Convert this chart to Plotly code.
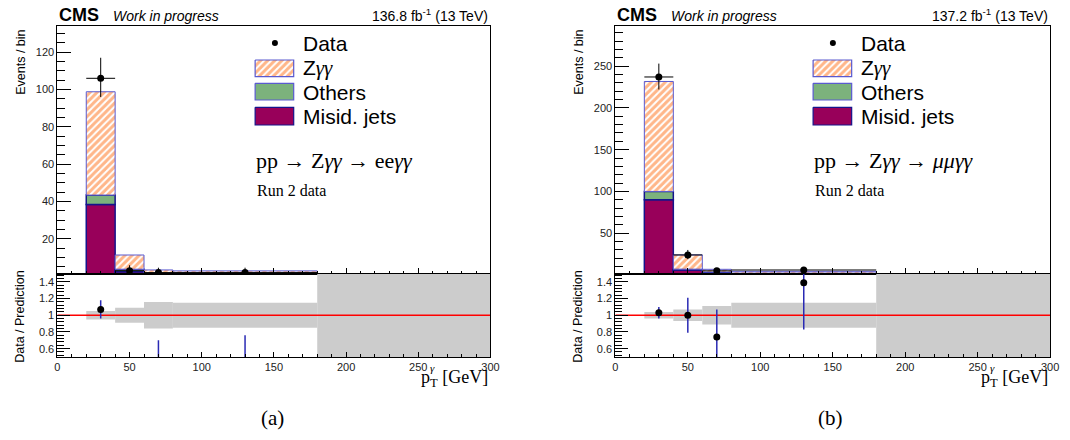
import plotly.graph_objects as go

W, H = 1070, 440

# ---------------- data ----------------
bin_lo = [20, 40, 60, 80]
bin_hi = [40, 60, 80, 180]

band_lo = [20, 40, 60, 80, 180]
band_hi = [40, 60, 80, 180, 300]

# (a) ee channel
ee_misid = [38.5, 2.5, 0.6, 0.6]
ee_others = [5.0, 1.3, 0.4, 0.3]
ee_zgg = [55.3, 7.6, 2.4, 2.0]
ee_data = [106, 3, 2, 2]
ee_data_up = [11, 2.9, 2.6, 2.6]
ee_data_dn = [10, 1.6, 1.3, 1.3]
ee_ratio = [1.07, 0.26, 0.29, 0.34]
ee_ratio_up = [0.11, 0.24, 0.41, 0.42]
ee_ratio_dn = [0.11, 0.14, 0.20, 0.20]
ee_unc = [0.05, 0.09, 0.16, 0.15, 1.0]

# (b) mumu channel
mm_misid = [90.0, 6.0, 2.5, 1.5]
mm_others = [10.0, 1.0, 1.0, 0.8]
mm_zgg = [131.6, 17.0, 3.3, 2.1]
mm_data = [237, 24, 5, 6]
mm_data_up = [16, 6, 3.4, 3.6]
mm_data_dn = [15, 5, 2.2, 2.4]
mm_ratio = [1.03, 1.00, 0.74, 1.39]
mm_ratio_up = [0.07, 0.21, 0.33, 0.30]
mm_ratio_dn = [0.07, 0.21, 0.30, 0.56]
mm_unc = [0.04, 0.07, 0.11, 0.15, 1.0]

lumi = ["136.8 fb<sup>-1</sup> (13 TeV)", "137.2 fb<sup>-1</sup> (13 TeV)"]
process = ["pp → Z<i>γγ</i> → ee<i>γγ</i>", "pp → Z<i>γγ</i> → <i>μμγγ</i>"]
captions = ["(a)", "(b)"]
top_ranges = [[1.5, 134], [1.8, 298]]
top_dticks = [20, 50]
top_minor = [5, 10]

# ---------------- styles ----------------
C_MISID = "#98005a"
C_OTH = "#7cb27c"
C_LINE = "#14148c"
C_ZLINE = "#5a5ad0"
C_HATCH = "#ff6d14"
C_BAND = "#cccccc"
C_RERR = "#2a2ab4"
SANS = "Liberation Sans"
SERIF = "Liberation Serif"
HATCH = dict(shape="/", fgcolor=C_HATCH, bgcolor="white", size=5, solidity=0.6, fillmode="overlay")

fig = go.Figure()

x0s = [55.0, 619.3]
x1s = [493.0, 1059.0]
top_y = [1 - 273.5 / H, 1 - 26 / H]
bot_y = [1 - 357 / H, 1 - 273.5 / H]

channels = [
    (ee_misid, ee_others, ee_zgg, ee_data, ee_data_up, ee_data_dn,
     ee_ratio, ee_ratio_up, ee_ratio_dn, ee_unc),
    (mm_misid, mm_others, mm_zgg, mm_data, mm_data_up, mm_data_dn,
     mm_ratio, mm_ratio_up, mm_ratio_dn, mm_unc),
]

centers = [(a + b) / 2 for a, b in zip(bin_lo, bin_hi)]
widths = [b - a for a, b in zip(bin_lo, bin_hi)]
halfw = [w / 2 for w in widths]
bcenters = [(a + b) / 2 for a, b in zip(band_lo, band_hi)]
bwidths = [b - a for a, b in zip(band_lo, band_hi)]

layout_axes = {}
for i, ch in enumerate(channels):
    misid, oth, zgg, dat, dup, ddn, rat, rup, rdn, unc = ch
    xt = "x%d" % (2 * i + 1)
    yt = "y%d" % (2 * i + 1)
    xb = "x%d" % (2 * i + 2)
    yb = "y%d" % (2 * i + 2)
    base_oth = [m for m in misid]
    base_z = [m + o for m, o in zip(misid, oth)]

    fig.add_trace(go.Bar(x=centers, y=misid, width=widths, base=[0] * 4,
                         marker=dict(color=C_MISID, line=dict(color=C_LINE, width=1.5)),
                         xaxis=xt, yaxis=yt, showlegend=False))
    fig.add_trace(go.Bar(x=centers, y=oth, width=widths, base=base_oth,
                         marker=dict(color=C_OTH, line=dict(color=C_LINE, width=1.5)),
                         xaxis=xt, yaxis=yt, showlegend=False))
    fig.add_trace(go.Bar(x=centers, y=zgg, width=widths, base=base_z,
                         marker=dict(color="white", line=dict(color=C_ZLINE, width=1),
                                     pattern=HATCH),
                         xaxis=xt, yaxis=yt, showlegend=False))
    fig.add_trace(go.Scatter(x=centers, y=dat, mode="markers",
                             marker=dict(color="black", size=7),
                             error_y=dict(type="data", array=dup, arrayminus=ddn, symmetric=False,
                                          color="black", thickness=1, width=0),
                             error_x=dict(type="data", array=halfw, color="black", thickness=1, width=0),
                             xaxis=xt, yaxis=yt, showlegend=False))

    # ratio panel
    fig.add_trace(go.Bar(x=bcenters, y=[2 * u for u in unc], width=bwidths,
                         base=[1 - u for u in unc],
                         marker=dict(color=C_BAND, line=dict(width=0)),
                         xaxis=xb, yaxis=yb, showlegend=False))
    fig.add_trace(go.Scatter(x=[0, 300], y=[1, 1], mode="lines",
                             line=dict(color="#ff0000", width=1.5),
                             xaxis=xb, yaxis=yb, showlegend=False))
    fig.add_trace(go.Scatter(x=centers, y=rat, mode="markers",
                             marker=dict(color="black", size=7),
                             error_y=dict(type="data", array=rup, arrayminus=rdn, symmetric=False,
                                          color=C_RERR, thickness=1.5, width=0),
                             xaxis=xb, yaxis=yb, showlegend=False))

    dom = [x0s[i] / W, x1s[i] / W]
    common = dict(showline=True, linecolor="black", linewidth=1, mirror=True,
                  showgrid=False, zeroline=False, tickcolor="black",
                  tickfont=dict(family=SANS, size=11, color="#222"))
    layout_axes["xaxis%d" % (2 * i + 1)] = dict(
        domain=dom, anchor=yt, range=[0, 300], ticks="inside", ticklen=6, dtick=50, tick0=0,
        showticklabels=False, minor=dict(ticks="inside", ticklen=3, dtick=10, tickcolor="black"),
        **common)
    layout_axes["yaxis%d" % (2 * i + 1)] = dict(
        domain=top_y, anchor=xt, range=top_ranges[i], ticks="inside", ticklen=14,
        dtick=top_dticks[i], tick0=0,
        minor=dict(ticks="inside", ticklen=8, dtick=top_minor[i], tickcolor="black"),
        **common)
    layout_axes["xaxis%d" % (2 * i + 2)] = dict(
        domain=dom, anchor=yb, range=[0, 300], ticks="inside", ticklen=5, dtick=50, tick0=0,
        minor=dict(ticks="inside", ticklen=3, dtick=10, tickcolor="black"),
        **common)
    layout_axes["yaxis%d" % (2 * i + 2)] = dict(
        domain=bot_y, anchor=xb, range=[0.5, 1.5], ticks="inside", ticklen=13,
        dtick=0.2, tick0=0.6,
        minor=dict(ticks="inside", ticklen=7, dtick=0.04, tickcolor="black"),
        **common)

# overlay axis in pixel coordinates for legend symbols
layout_axes["xaxis5"] = dict(domain=[0, 1], anchor="y5", range=[0, W], visible=False, fixedrange=True)
layout_axes["yaxis5"] = dict(domain=[0, 1], anchor="x5", range=[H, 0], visible=False, fixedrange=True)

annotations = []


def ann(x, y, text, size, family=SANS, xanchor="left", yanchor="middle", angle=0, color="black"):
    annotations.append(dict(x=x / W, y=1 - y / H, xref="paper", yref="paper", text=text,
                            showarrow=False, xanchor=xanchor, yanchor=yanchor, textangle=angle,
                            font=dict(family=family, size=size, color=color)))


for i in range(2):
    off = x0s[i] - 55.0
    # legend boxes
    bx0, bx1 = 255 + off, 294 + off
    fig.add_trace(go.Scatter(x=[275 + off], y=[43], mode="markers",
                             marker=dict(color="black", size=6), xaxis="x5", yaxis="y5",
                             showlegend=False, hoverinfo="skip"))
    boxes = [(60, 76.7, "white", C_ZLINE, True), (83.3, 100, C_OTH, C_ZLINE, False),
             (107.3, 125, C_MISID, C_LINE, False)]
    for (y0, y1, fc, lc, hatch) in boxes:
        kw = dict(x=[bx0, bx1, bx1, bx0, bx0], y=[y0, y0, y1, y1, y0], mode="lines",
                  fill="toself", fillcolor=fc, line=dict(color=lc, width=1.2),
                  xaxis="x5", yaxis="y5", showlegend=False, hoverinfo="skip")
        if hatch:
            kw["fillpattern"] = HATCH
        fig.add_trace(go.Scatter(**kw))
    tx = 301.5 + off
    ann(tx, 44, "Data", 21)
    ann(tx, 68, 'Z<span style="font-family:Liberation Serif"><i>γγ</i></span>', 21)
    ann(tx, 92, "Others", 21)
    ann(tx, 116, "Misid. jets", 21)
    ann(254 + off, 160, process[i], 22, family=SERIF)
    ann(255 + off, 190, "Run 2 data", 16, family=SERIF)
    # header
    ann(x0s[i], 15, "<b>CMS</b>", 18)
    ann(x0s[i] + 54, 16, "<i>Work in progress</i>", 14)
    ann(x1s[i], 15, lumi[i], 14, xanchor="right")
    # axis titles
    ann(18 + off, 62, "Events / bin", 12.5, angle=-90, xanchor="center")
    ann(17 + off, 317, "Data / Prediction", 12.5, angle=-90, xanchor="center")
    ann(x1s[i], 378, "p<sub>T</sub> [GeV]", 18, family=SERIF, xanchor="right")
    ann(x1s[i] - 63, 368, "<i>γ</i>", 11, family=SERIF, xanchor="left")
    # caption
    ann(273 + off, 418, captions[i], 21, family=SERIF, xanchor="center")

fig.update_layout(
    width=W, height=H, margin=dict(l=0, r=0, t=0, b=0), autosize=False,
    paper_bgcolor="white", plot_bgcolor="rgba(0,0,0,0)", barmode="overlay",
    showlegend=False, annotations=annotations, **layout_axes)

fig.write_html("out.html")
